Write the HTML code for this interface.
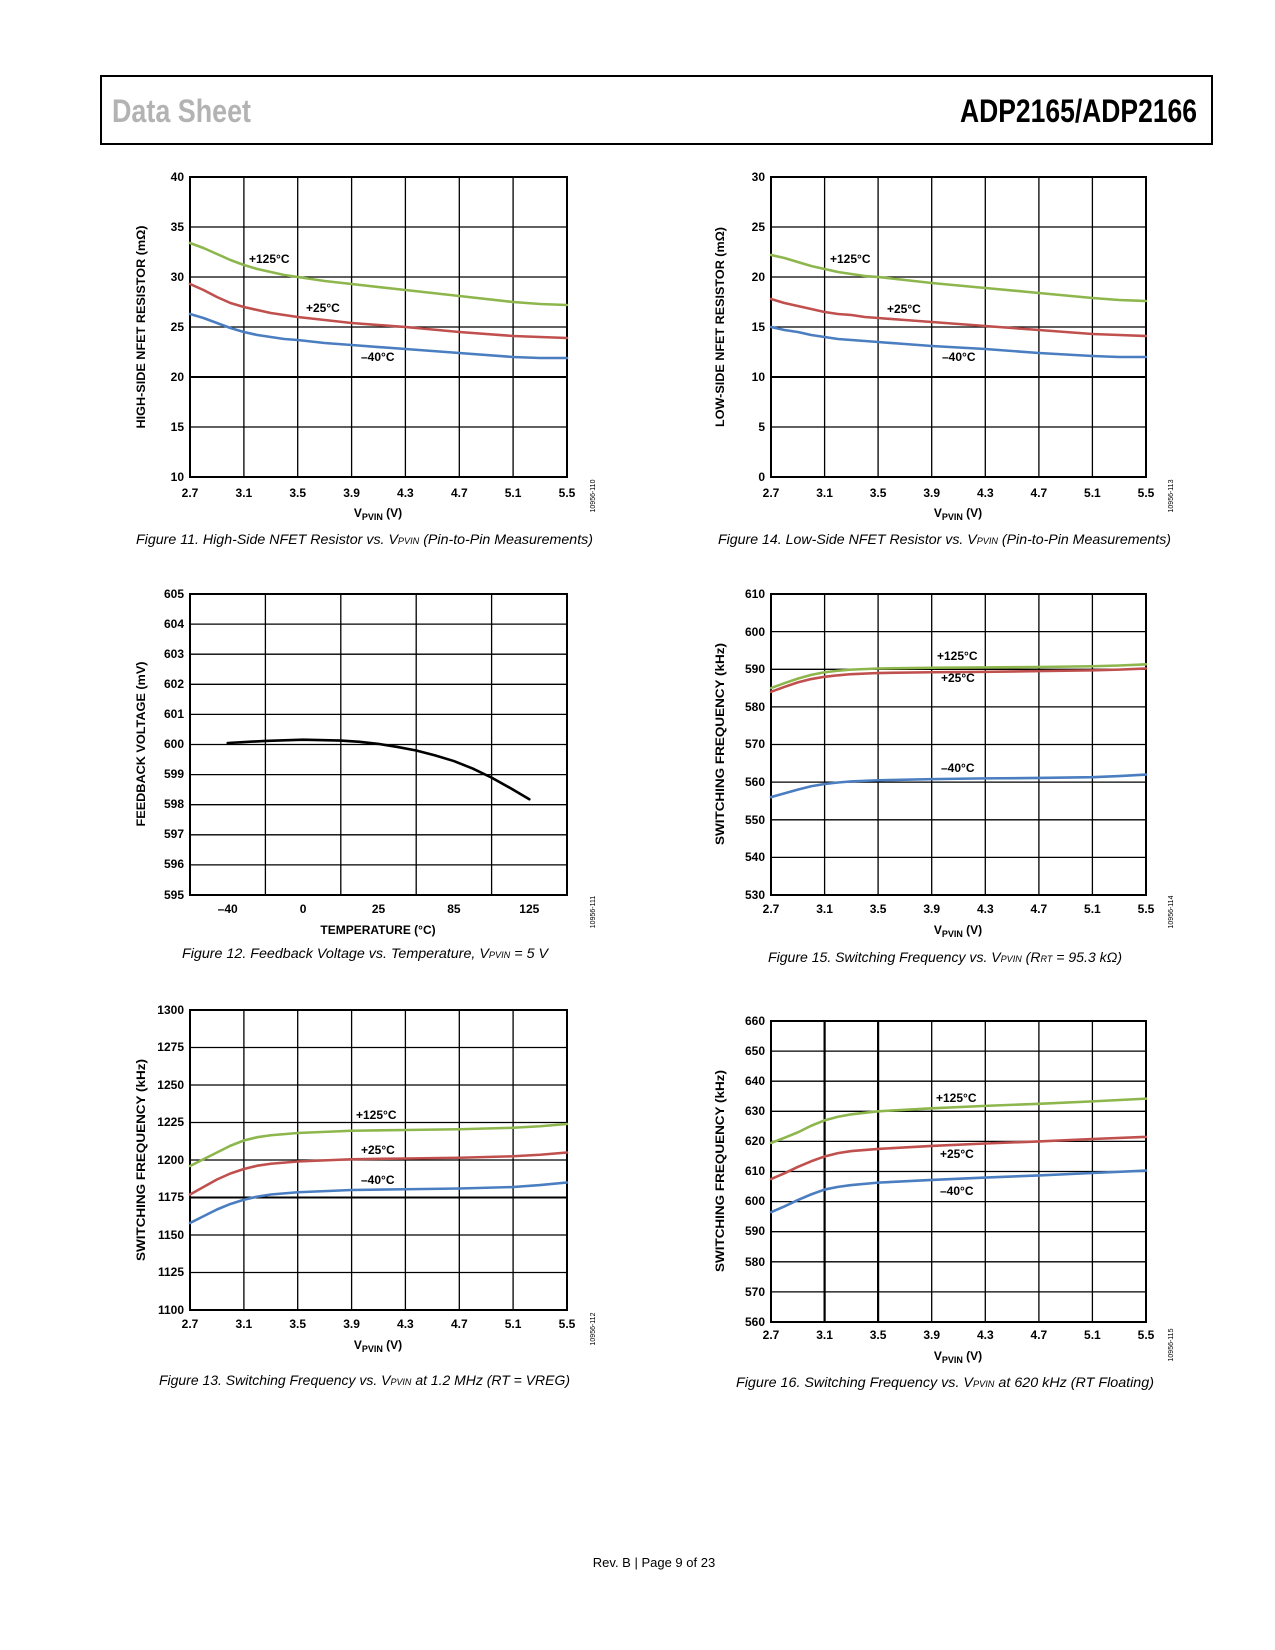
<!DOCTYPE html>
<html><head><meta charset="utf-8"><style>
html,body{margin:0;padding:0;background:#fff;}
svg{display:block;}
text{font-family:"Liberation Sans",sans-serif;}
.t{font-size:12px;font-weight:bold;fill:#000;}
.ax{font-size:12px;font-weight:bold;fill:#000;}
.cap{font-size:14px;font-style:italic;fill:#000;}
.code{font-size:7px;fill:#000;}
.g{stroke:#000;stroke-width:1.3;fill:none;}
.b{stroke:#000;stroke-width:2;fill:none;}
.c{fill:none;stroke-width:2.6;vector-effect:non-scaling-stroke;stroke-linejoin:round;stroke-linecap:round;}
</style></head><body>
<svg width="1275" height="1650" viewBox="0 0 1275 1650" xmlns="http://www.w3.org/2000/svg">
<!-- header -->
<rect x="101" y="76" width="1111" height="68" fill="none" stroke="#000" stroke-width="2"/>
<text x="112" y="122" font-size="32" font-weight="bold" fill="#b3b3b3" textLength="139" lengthAdjust="spacingAndGlyphs">Data Sheet</text>
<text x="960" y="122" font-size="32" font-weight="bold" fill="#000" textLength="237" lengthAdjust="spacingAndGlyphs">ADP2165/ADP2166</text>

<!-- ===== Chart 11 ===== -->
<path class="g" d="M243.9 177V477M297.7 177V477M351.6 177V477M405.4 177V477M459.3 177V477M513.1 177V477M190 227H567M190 277H567M190 327H567M190 427H567"/>
<path class="b" d="M190 377H567"/>
<rect class="b" x="190" y="177" width="377" height="300"/>
<g class="t" text-anchor="end">
<text x="184" y="181">40</text><text x="184" y="231">35</text><text x="184" y="281">30</text><text x="184" y="331">25</text><text x="184" y="381">20</text><text x="184" y="431">15</text><text x="184" y="481">10</text></g>
<g class="t" text-anchor="middle">
<text x="190" y="497">2.7</text><text x="243.9" y="497">3.1</text><text x="297.7" y="497">3.5</text><text x="351.6" y="497">3.9</text><text x="405.4" y="497">4.3</text><text x="459.3" y="497">4.7</text><text x="513.1" y="497">5.1</text><text x="567" y="497">5.5</text></g>
<text class="ax" x="378" y="517" text-anchor="middle">V<tspan font-size="9" dy="3">PVIN</tspan><tspan dy="-3"> (V)</tspan></text>
<text class="ax" transform="translate(145,327) rotate(-90)" text-anchor="middle" textLength="203" lengthAdjust="spacingAndGlyphs">HIGH-SIDE NFET RESISTOR (mΩ)</text>
<text class="code" transform="translate(595,496) rotate(-90)" text-anchor="middle">10956-110</text>
<g transform="translate(190,477) scale(134.64,-10) translate(-2.7,-10)">
<polyline class="c" stroke="#8db64c" points="2.7,33.4 2.8,32.9 2.9,32.3 3.0,31.7 3.1,31.2 3.2,30.8 3.3,30.5 3.4,30.2 3.5,30.0 3.7,29.6 3.9,29.3 4.3,28.7 4.7,28.1 5.1,27.5 5.3,27.3 5.5,27.2"/>
<polyline class="c" stroke="#c0504d" points="2.7,29.3 2.8,28.7 2.9,28.0 3.0,27.4 3.1,27.0 3.2,26.7 3.3,26.4 3.4,26.2 3.5,26.0 3.7,25.7 3.9,25.4 4.3,25.0 4.7,24.5 5.1,24.1 5.3,24.0 5.5,23.9"/>
<polyline class="c" stroke="#4a7ec0" points="2.7,26.3 2.8,25.9 2.9,25.4 3.0,24.9 3.1,24.5 3.2,24.2 3.3,24.0 3.4,23.8 3.5,23.7 3.7,23.4 3.9,23.2 4.3,22.8 4.7,22.4 5.1,22.0 5.3,21.9 5.5,21.9"/>
</g>
<g class="t" font-size="11"><text x="249" y="263">+125°C</text><text x="306" y="312">+25°C</text><text x="361" y="361">–40°C</text></g>
<text class="cap" x="136" y="544" textLength="457" lengthAdjust="spacingAndGlyphs">Figure 11. High-Side NFET Resistor vs. V<tspan font-size="9">PVIN</tspan> (Pin-to-Pin Measurements)</text>

<!-- ===== Chart 14 ===== -->
<path class="g" d="M824.6 177V477M878.1 177V477M931.7 177V477M985.3 177V477M1038.9 177V477M1092.4 177V477M771 227H1146M771 277H1146M771 327H1146M771 427H1146"/>
<path class="b" d="M771 377H1146"/>
<rect class="b" x="771" y="177" width="375" height="300"/>
<g class="t" text-anchor="end">
<text x="765" y="181">30</text><text x="765" y="231">25</text><text x="765" y="281">20</text><text x="765" y="331">15</text><text x="765" y="381">10</text><text x="765" y="431">5</text><text x="765" y="481">0</text></g>
<g class="t" text-anchor="middle">
<text x="771" y="497">2.7</text><text x="824.6" y="497">3.1</text><text x="878.1" y="497">3.5</text><text x="931.7" y="497">3.9</text><text x="985.3" y="497">4.3</text><text x="1038.9" y="497">4.7</text><text x="1092.4" y="497">5.1</text><text x="1146" y="497">5.5</text></g>
<text class="ax" x="958" y="517" text-anchor="middle">V<tspan font-size="9" dy="3">PVIN</tspan><tspan dy="-3"> (V)</tspan></text>
<text class="ax" transform="translate(724,327) rotate(-90)" text-anchor="middle" textLength="200" lengthAdjust="spacingAndGlyphs">LOW-SIDE NFET RESISTOR (mΩ)</text>
<text class="code" transform="translate(1173,496) rotate(-90)" text-anchor="middle">10956-113</text>
<g transform="translate(771,477) scale(133.93,-10) translate(-2.7,0)">
<polyline class="c" stroke="#8db64c" points="2.7,22.2 2.8,21.9 2.9,21.5 3.0,21.1 3.1,20.8 3.2,20.5 3.3,20.3 3.4,20.1 3.5,20.0 3.7,19.7 3.9,19.4 4.3,18.9 4.7,18.4 5.1,17.9 5.3,17.7 5.5,17.6"/>
<polyline class="c" stroke="#c0504d" points="2.7,17.8 2.8,17.4 2.9,17.1 3.0,16.8 3.1,16.5 3.2,16.3 3.3,16.2 3.4,16.0 3.5,15.9 3.7,15.7 3.9,15.5 4.3,15.1 4.7,14.7 5.1,14.3 5.3,14.2 5.5,14.1"/>
<polyline class="c" stroke="#4a7ec0" points="2.7,15.0 2.8,14.7 2.9,14.5 3.0,14.2 3.1,14.0 3.2,13.8 3.3,13.7 3.4,13.6 3.5,13.5 3.7,13.3 3.9,13.1 4.3,12.8 4.7,12.4 5.1,12.1 5.3,12.0 5.5,12.0"/>
</g>
<g class="t" font-size="11"><text x="830" y="263">+125°C</text><text x="887" y="313">+25°C</text><text x="942" y="361">–40°C</text></g>
<text class="cap" x="718" y="544" textLength="453" lengthAdjust="spacingAndGlyphs">Figure 14. Low-Side NFET Resistor vs. V<tspan font-size="9">PVIN</tspan> (Pin-to-Pin Measurements)</text>

<!-- ===== Chart 12 ===== -->
<path class="g" d="M265.4 594V895M340.8 594V895M416.2 594V895M491.6 594V895M190 624.1H567M190 654.2H567M190 684.3H567M190 714.4H567M190 744.5H567M190 774.6H567M190 804.7H567M190 834.8H567M190 864.9H567"/>
<rect class="b" x="190" y="594" width="377" height="301"/>
<g class="t" text-anchor="end">
<text x="184" y="598">605</text><text x="184" y="628">604</text><text x="184" y="658">603</text><text x="184" y="688">602</text><text x="184" y="718">601</text><text x="184" y="748">600</text><text x="184" y="778">599</text><text x="184" y="808">598</text><text x="184" y="838">597</text><text x="184" y="868">596</text><text x="184" y="899">595</text></g>
<g class="t" text-anchor="middle">
<text x="227.7" y="913">–40</text><text x="303.1" y="913">0</text><text x="378.5" y="913">25</text><text x="453.9" y="913">85</text><text x="529.3" y="913">125</text></g>
<text class="ax" x="378" y="934" text-anchor="middle">TEMPERATURE (°C)</text>
<text class="ax" transform="translate(145,744) rotate(-90)" text-anchor="middle" textLength="165" lengthAdjust="spacingAndGlyphs">FEEDBACK VOLTAGE (mV)</text>
<text class="code" transform="translate(595,912) rotate(-90)" text-anchor="middle">10956-111</text>
<g transform="translate(190,895) scale(75.4,-30.1) translate(0,-595)">
<polyline class="c" stroke="#000" points="0.5,600.05 1.0,600.12 1.5,600.16 2.0,600.13 2.25,600.09 2.5,600.02 2.75,599.92 3.0,599.8 3.25,599.64 3.5,599.45 3.75,599.2 4.0,598.9 4.25,598.55 4.5,598.18"/>
</g>
<text class="cap" x="182" y="958" textLength="366" lengthAdjust="spacingAndGlyphs">Figure 12. Feedback Voltage vs. Temperature, V<tspan font-size="9">PVIN</tspan> = 5 V</text>

<!-- ===== Chart 15 ===== -->
<path class="g" d="M824.6 594V895M878.1 594V895M931.7 594V895M985.3 594V895M1038.9 594V895M1092.4 594V895M771 631.6H1146M771 669.3H1146M771 706.9H1146M771 744.5H1146M771 782.1H1146M771 819.8H1146M771 857.4H1146"/>
<rect class="b" x="771" y="594" width="375" height="301"/>
<g class="t" text-anchor="end">
<text x="765" y="598">610</text><text x="765" y="636">600</text><text x="765" y="673">590</text><text x="765" y="711">580</text><text x="765" y="748">570</text><text x="765" y="786">560</text><text x="765" y="824">550</text><text x="765" y="861">540</text><text x="765" y="899">530</text></g>
<g class="t" text-anchor="middle">
<text x="771" y="913">2.7</text><text x="824.6" y="913">3.1</text><text x="878.1" y="913">3.5</text><text x="931.7" y="913">3.9</text><text x="985.3" y="913">4.3</text><text x="1038.9" y="913">4.7</text><text x="1092.4" y="913">5.1</text><text x="1146" y="913">5.5</text></g>
<text class="ax" x="958" y="934" text-anchor="middle">V<tspan font-size="9" dy="3">PVIN</tspan><tspan dy="-3"> (V)</tspan></text>
<text class="ax" transform="translate(724,744) rotate(-90)" text-anchor="middle" textLength="202" lengthAdjust="spacingAndGlyphs">SWITCHING FREQUENCY (kHz)</text>
<text class="code" transform="translate(1173,912) rotate(-90)" text-anchor="middle">10956-114</text>
<g transform="translate(771,895) scale(133.93,-3.7625) translate(-2.7,-530)">
<polyline class="c" stroke="#8db64c" points="2.7,585 2.8,586.3 2.9,587.5 3.0,588.5 3.1,589.2 3.2,589.6 3.3,589.9 3.5,590.2 3.9,590.4 4.3,590.5 4.7,590.6 5.1,590.8 5.3,591 5.5,591.3"/>
<polyline class="c" stroke="#c0504d" points="2.7,584 2.8,585.3 2.9,586.5 3.0,587.4 3.1,588 3.2,588.4 3.3,588.7 3.5,589 3.9,589.2 4.3,589.3 4.7,589.5 5.1,589.7 5.3,589.9 5.5,590.2"/>
<polyline class="c" stroke="#4a7ec0" points="2.7,556 2.8,557 2.9,558 3.0,558.9 3.1,559.5 3.2,559.9 3.3,560.2 3.5,560.5 3.9,560.8 4.3,561 4.7,561.1 5.1,561.3 5.3,561.6 5.5,562"/>
</g>
<g class="t" font-size="11"><text x="937" y="660">+125°C</text><text x="941" y="682">+25°C</text><text x="941" y="772">–40°C</text></g>
<text class="cap" x="768" y="962" textLength="354" lengthAdjust="spacingAndGlyphs">Figure 15. Switching Frequency vs. V<tspan font-size="9">PVIN</tspan> (R<tspan font-size="9">RT</tspan> = 95.3 kΩ)</text>

<!-- ===== Chart 13 ===== -->
<path class="g" d="M243.9 1010V1310M297.7 1010V1310M351.6 1010V1310M405.4 1010V1310M459.3 1010V1310M513.1 1010V1310M190 1047.5H567M190 1085H567M190 1122.5H567M190 1160H567M190 1235H567M190 1272.5H567"/>
<path class="b" d="M190 1197.5H567"/>
<rect class="b" x="190" y="1010" width="377" height="300"/>
<g class="t" text-anchor="end">
<text x="184" y="1014">1300</text><text x="184" y="1051">1275</text><text x="184" y="1089">1250</text><text x="184" y="1126">1225</text><text x="184" y="1164">1200</text><text x="184" y="1201">1175</text><text x="184" y="1239">1150</text><text x="184" y="1276">1125</text><text x="184" y="1314">1100</text></g>
<g class="t" text-anchor="middle">
<text x="190" y="1328">2.7</text><text x="243.9" y="1328">3.1</text><text x="297.7" y="1328">3.5</text><text x="351.6" y="1328">3.9</text><text x="405.4" y="1328">4.3</text><text x="459.3" y="1328">4.7</text><text x="513.1" y="1328">5.1</text><text x="567" y="1328">5.5</text></g>
<text class="ax" x="378" y="1349" text-anchor="middle">V<tspan font-size="9" dy="3">PVIN</tspan><tspan dy="-3"> (V)</tspan></text>
<text class="ax" transform="translate(145,1160) rotate(-90)" text-anchor="middle" textLength="202" lengthAdjust="spacingAndGlyphs">SWITCHING FREQUENCY (kHz)</text>
<text class="code" transform="translate(595,1329) rotate(-90)" text-anchor="middle">10956-112</text>
<g transform="translate(190,1310) scale(134.64,-1.5) translate(-2.7,-1100)">
<polyline class="c" stroke="#8db64c" points="2.7,1196 2.8,1200.5 2.9,1205 3.0,1209.5 3.1,1213 3.2,1215.2 3.3,1216.5 3.5,1218 3.9,1219.5 4.3,1220 4.7,1220.5 5.1,1221.5 5.3,1222.5 5.5,1224"/>
<polyline class="c" stroke="#c0504d" points="2.7,1177 2.8,1182 2.9,1187 3.0,1191 3.1,1194 3.2,1196.2 3.3,1197.5 3.5,1199 3.9,1200.5 4.3,1201 4.7,1201.5 5.1,1202.5 5.3,1203.5 5.5,1205"/>
<polyline class="c" stroke="#4a7ec0" points="2.7,1158 2.8,1162.5 2.9,1167 3.0,1170.7 3.1,1173.5 3.2,1175.6 3.3,1177 3.5,1178.5 3.9,1180 4.3,1180.5 4.7,1181 5.1,1182 5.3,1183.3 5.5,1185"/>
</g>
<g class="t" font-size="11"><text x="356" y="1119">+125°C</text><text x="361" y="1154">+25°C</text><text x="361" y="1184">–40°C</text></g>
<text class="cap" x="159" y="1385" textLength="411" lengthAdjust="spacingAndGlyphs">Figure 13. Switching Frequency vs. V<tspan font-size="9">PVIN</tspan> at 1.2 MHz (RT = VREG)</text>

<!-- ===== Chart 16 ===== -->
<path class="g" d="M931.7 1021V1322M985.3 1021V1322M1038.9 1021V1322M1092.4 1021V1322M771 1051.1H1146M771 1081.2H1146M771 1111.3H1146M771 1141.4H1146M771 1171.5H1146M771 1201.6H1146M771 1231.7H1146M771 1261.8H1146M771 1291.9H1146"/>
<path d="M824.6 1021V1322M878.1 1021V1322" stroke="#000" stroke-width="2.2"/>
<rect class="b" x="771" y="1021" width="375" height="301"/>
<g class="t" text-anchor="end">
<text x="765" y="1025">660</text><text x="765" y="1055">650</text><text x="765" y="1085">640</text><text x="765" y="1115">630</text><text x="765" y="1145">620</text><text x="765" y="1175">610</text><text x="765" y="1205">600</text><text x="765" y="1235">590</text><text x="765" y="1266">580</text><text x="765" y="1296">570</text><text x="765" y="1326">560</text></g>
<g class="t" text-anchor="middle">
<text x="771" y="1339">2.7</text><text x="824.6" y="1339">3.1</text><text x="878.1" y="1339">3.5</text><text x="931.7" y="1339">3.9</text><text x="985.3" y="1339">4.3</text><text x="1038.9" y="1339">4.7</text><text x="1092.4" y="1339">5.1</text><text x="1146" y="1339">5.5</text></g>
<text class="ax" x="958" y="1360" text-anchor="middle">V<tspan font-size="9" dy="3">PVIN</tspan><tspan dy="-3"> (V)</tspan></text>
<text class="ax" transform="translate(724,1171) rotate(-90)" text-anchor="middle" textLength="202" lengthAdjust="spacingAndGlyphs">SWITCHING FREQUENCY (kHz)</text>
<text class="code" transform="translate(1173,1345) rotate(-90)" text-anchor="middle">10956-115</text>
<g transform="translate(771,1322) scale(133.93,-3.01) translate(-2.7,-560)">
<polyline class="c" stroke="#8db64c" points="2.7,619.5 2.8,621.2 2.9,623 3.0,625.2 3.1,627 3.2,628.2 3.3,629 3.5,630 3.9,631 4.3,631.8 4.7,632.5 5.1,633.3 5.5,634.2"/>
<polyline class="c" stroke="#c0504d" points="2.7,607.5 2.8,609.4 2.9,611.5 3.0,613.4 3.1,615 3.2,616.1 3.3,616.8 3.5,617.5 3.9,618.5 4.3,619.3 4.7,620 5.1,620.8 5.5,621.5"/>
<polyline class="c" stroke="#4a7ec0" points="2.7,596.5 2.8,598.4 2.9,600.5 3.0,602.4 3.1,604 3.2,604.9 3.3,605.5 3.5,606.3 3.9,607.2 4.3,608 4.7,608.7 5.1,609.5 5.5,610.3"/>
</g>
<g class="t" font-size="11"><text x="936" y="1102">+125°C</text><text x="940" y="1158">+25°C</text><text x="940" y="1195">–40°C</text></g>
<text class="cap" x="736" y="1387" textLength="418" lengthAdjust="spacingAndGlyphs">Figure 16. Switching Frequency vs. V<tspan font-size="9">PVIN</tspan> at 620 kHz (RT Floating)</text>

<text x="654" y="1567" font-size="13" text-anchor="middle" fill="#000">Rev. B | Page 9 of 23</text>
</svg>
</body></html>
